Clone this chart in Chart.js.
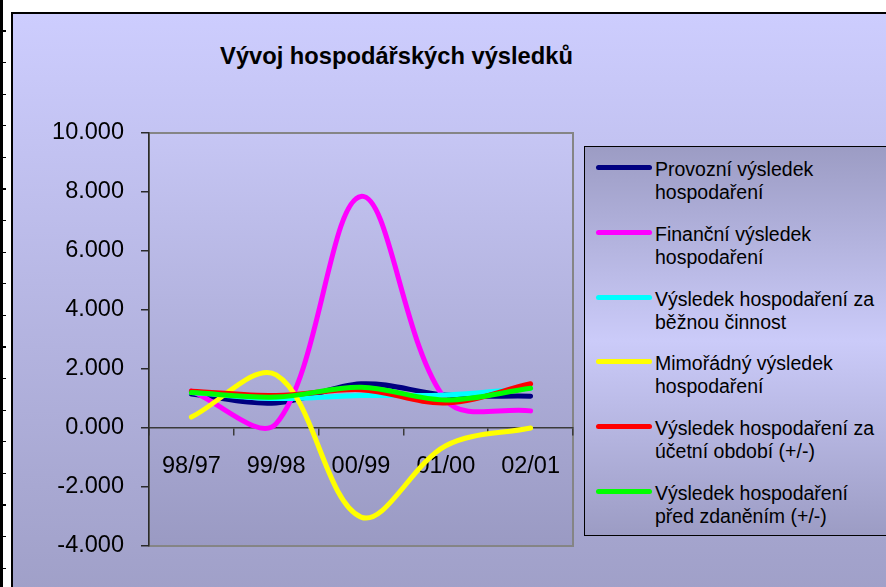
<!DOCTYPE html>
<html lang="cs">
<head>
<meta charset="utf-8">
<title>Vývoj hospodářských výsledků</title>
<script src="https://cdn.jsdelivr.net/npm/chart.js@4.4.1/dist/chart.umd.min.js"></script>
<style>
    html, body {
        margin: 0;
        padding: 0;
        width: 886px;
        height: 587px;
        overflow: hidden;
        background: #ffffff;
        font-family: "Liberation Sans", Arial, sans-serif;
    }
    #sheet-edge {
        position: absolute;
        left: 0;
        top: 0;
        width: 3px;
        height: 587px;
        background: #000000;
    }
    #sheet-rows {
        position: absolute;
        left: 0;
        top: 0;
        width: 6px;
        height: 587px;
        background: repeating-linear-gradient(to bottom, transparent 0px, transparent 30.5px, #000000 30.5px, #000000 31.6px);
    }
    #frame {
        position: absolute;
        left: 11px;
        top: 12px;
        width: 900px;
        height: 600px;
        border: 2px solid #000000;
        background: linear-gradient(to bottom, #cdcdfe 0%, #9e9ec6 100%);
    }
    #chart-wrap {
        position: absolute;
        left: 0;
        top: 0;
        width: 886px;
        height: 587px;
    }
    #title {
        position: absolute;
        left: 100px;
        width: 593px;
        top: 45px;
        text-align: center;
        font-weight: bold;
        font-size: 23.7px;
        line-height: 23.7px;
        color: #000000;
    }
    #legend {
        position: absolute;
        left: 584px;
        top: 146px;
        width: 400px;
        height: 388px;
        border: 1px solid #000000;
        background: linear-gradient(to bottom, #9c9cc4 0%, #cbcbf9 50%, #9c9cc4 100%);
    }
    .legend-item {
        position: absolute;
        left: 0;
        width: 380px;
    }
    .legend-line {
        position: absolute;
        left: 11px;
        width: 56px;
        height: 5px;
        border-radius: 3px;
    }
    .legend-text {
        position: absolute;
        left: 70px;
        top: 0;
        font-size: 19.5px;
        line-height: 23px;
        color: #000000;
        white-space: nowrap;
    }
</style>
</head>
<body>
<div id="sheet-edge"></div>
<div id="sheet-rows"></div>
<div id="frame"></div>
<div id="title">Vývoj hospodářských výsledků</div>
<div id="chart-wrap"><canvas id="resultsChart" width="886" height="587"></canvas></div>
<div id="legend"></div>

<script>
// --- data ---
const periods = ['98/97', '99/98', '00/99', '01/00', '02/01'];

const provozni = [1.15, 0.85, 1.5, 1.12, 1.08];
const financni = [1.25, 0.15, 7.85, 0.95, 0.58];
const bezna = [1.2, 1.0, 1.1, 1.12, 1.35];
const mimoradny = [0.37, 1.8, -3.02, -0.6, 0.0];
const ucetni = [1.25, 1.1, 1.3, 0.85, 1.5];
const predZdanenim = [1.2, 1.05, 1.38, 0.95, 1.35];

const seriesNames = [
    ['Provozní výsledek', 'hospodaření'],
    ['Finanční výsledek', 'hospodaření'],
    ['Výsledek hospodaření za', 'běžnou činnost'],
    ['Mimořádný výsledek', 'hospodaření'],
    ['Výsledek hospodaření za', 'účetní období (+/-)'],
    ['Výsledek hospodaření', 'před zdaněním (+/-)']
];
const seriesValues = [provozni, financni, bezna, mimoradny, ucetni, predZdanenim];
const seriesColors = ['#000080', '#ff00ff', '#00ffff', '#ffff00', '#ff0000', '#00ff00'];

const yTicks = { min: -4, max: 10, step: 2 };

document.addEventListener('DOMContentLoaded', function() {
    const ctx = document.getElementById('resultsChart').getContext('2d');

    // plot area: gradient fill and grey frame
    const plotBackground = {
        id: 'plotBackground',
        beforeDraw(chart) {
            const a = chart.chartArea;
            const c = chart.ctx;
            const grad = c.createLinearGradient(0, a.top, 0, a.bottom);
            grad.addColorStop(0, '#c6c6f4');
            grad.addColorStop(1, '#9a9ac3');
            c.save();
            c.fillStyle = grad;
            c.fillRect(a.left, a.top, a.right - a.left, a.bottom - a.top);
            c.strokeStyle = '#858585';
            c.lineWidth = 2;
            c.strokeRect(a.left, a.top, a.right - a.left, a.bottom - a.top);
            c.restore();
        }
    };

    const datasets = seriesValues.map((values, i) => ({
        label: seriesNames[i].join(' '),
        data: values,
        borderColor: seriesColors[i],
        backgroundColor: seriesColors[i],
        borderWidth: 5,
        borderCapStyle: 'round',
        borderJoinStyle: 'round',
        pointRadius: 0,
        pointHoverRadius: 0,
        tension: 0.35,
        fill: false,
        order: seriesValues.length - i   // later series on top, like the original
    }));

    const tickFont = { family: '"Liberation Sans", Arial, sans-serif', size: 23.5 };

    const resultsChart = new Chart(ctx, {
        type: 'line',
        data: {
            labels: periods,
            datasets: datasets
        },
        options: {
            responsive: false,
            animation: false,
            layout: {
                padding: { top: 133, left: 0, right: 313, bottom: 41 }
            },
            plugins: {
                legend: { display: false },
                title: { display: false },
                tooltip: { enabled: false }
            },
            scales: {
                x: {
                    type: 'category',
                    position: { y: 0 },
                    offset: true,
                    grid: {
                        offset: true,
                        drawOnChartArea: false,
                        tickLength: 7,
                        color: '#3a3a3a',
                        lineWidth: 1.5
                    },
                    border: { display: true, color: '#3a3a3a', width: 1.5 },
                    ticks: {
                        color: '#000000',
                        font: tickFont,
                        padding: 17,
                        maxRotation: 0,
                        autoSkip: false
                    }
                },
                y: {
                    min: yTicks.min,
                    max: yTicks.max,
                    afterFit: function(scale) {
                        scale.width = 149;
                    },
                    grid: {
                        drawOnChartArea: false,
                        tickLength: 8,
                        color: '#2a2a2a',
                        lineWidth: 1.5
                    },
                    border: { display: true, color: '#2a2a2a', width: 1.5 },
                    ticks: {
                        stepSize: yTicks.step,
                        color: '#000000',
                        font: tickFont,
                        padding: 17,
                        callback: function(value) {
                            return Number(value).toFixed(3);
                        }
                    }
                }
            }
        },
        plugins: [plotBackground]
    });

    // legend with two-line labels, built from the chart's datasets
    const legend = document.getElementById('legend');
    resultsChart.data.datasets.forEach((ds, i) => {
        const item = document.createElement('div');
        item.className = 'legend-item';
        item.style.top = (11 + i * 64.8) + 'px';

        const line = document.createElement('div');
        line.className = 'legend-line';
        line.style.top = '7px';
        line.style.background = ds.borderColor;

        const text = document.createElement('div');
        text.className = 'legend-text';
        seriesNames[i].forEach((part, k) => {
            if (k > 0) text.appendChild(document.createElement('br'));
            text.appendChild(document.createTextNode(part));
        });

        item.appendChild(line);
        item.appendChild(text);
        legend.appendChild(item);
    });
});
</script>
</body>
</html>
